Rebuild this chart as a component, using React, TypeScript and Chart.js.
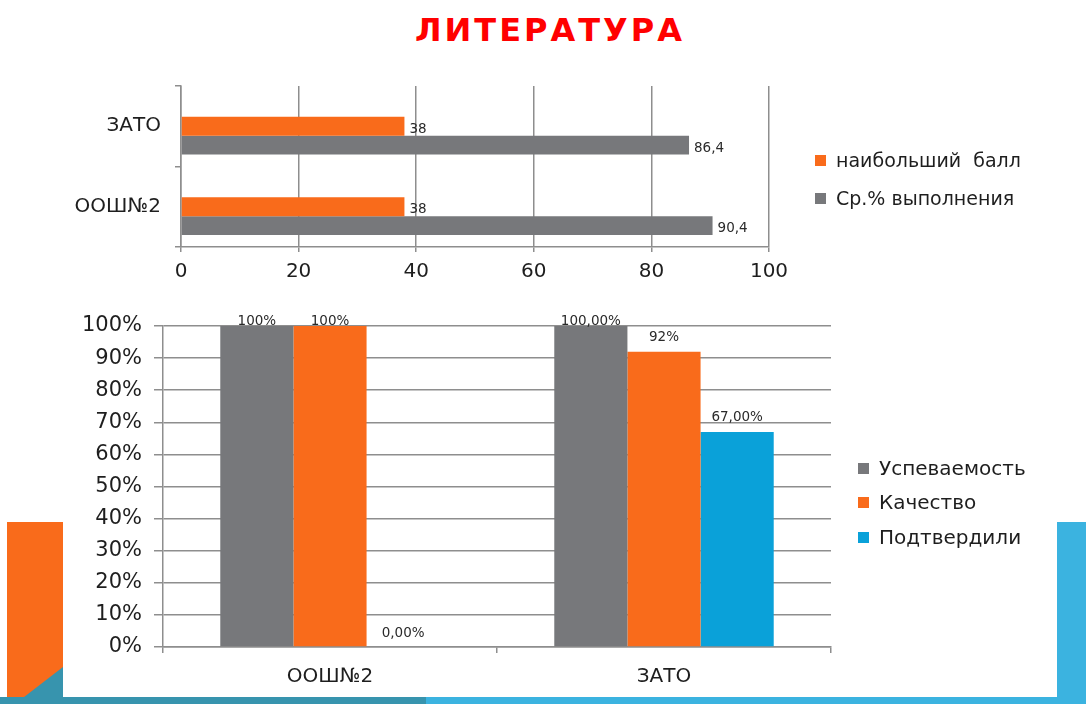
import React, { useEffect, useRef } from 'react';
import { Chart, registerables } from 'chart.js';

Chart.register(...registerables);

// ---------- data ----------
const topCategories = ['ЗАТО', 'ООШ№2'];
const topMaxScore = [38, 38];
const topAvgPercent = [86.4, 90.4];
const topSeriesNames = ['наибольший  балл', 'Ср.% выполнения'];

const bottomCategories = ['ООШ№2', 'ЗАТО'];
const progress = [100, 100];
const quality = [100, 92];
const confirmed = [0, 67];
const progressLabels = ['100%', '100,00%'];
const qualityLabels = ['100%', '92%'];
const confirmedLabels = ['0,00%', '67,00%'];
const bottomSeriesNames = ['Успеваемость', 'Качество', 'Подтвердили'];

const GRAY = '#77787b';
const ORANGE = '#f96b1b';
const BLUE = '#0aa1d9';
const GRID = '#8e8e8e';
const FONT = 'DejaVu Sans';

const valueLabels = {
  id: 'valueLabels',
  afterDatasetsDraw(chart: any, _args: any, opts: any) {
    const { ctx, chartArea } = chart;
    ctx.save();
    ctx.font = opts.font;
    ctx.fillStyle = opts.color;
    chart.data.datasets.forEach((ds: any, di: number) => {
      const texts = ds.valueTexts;
      if (!texts) return;
      const meta = chart.getDatasetMeta(di);
      meta.data.forEach((el: any, i: number) => {
        const t = texts[i];
        if (t == null) return;
        const { x, y } = el.getProps(['x', 'y'], true);
        ctx.textBaseline = 'middle';
        if (opts.horizontal) {
          ctx.textAlign = 'left';
          ctx.fillText(t, x + 5, y + 3);
        } else {
          ctx.textAlign = 'center';
          ctx.fillText(t, x, Math.max(y - 14, chartArea.top - 5));
        }
      });
    });
    ctx.restore();
  },
};

const fmt = (v: number) => String(v).replace('.', ',');

function TopChart() {
  const ref = useRef<HTMLCanvasElement>(null);
  useEffect(() => {
    const chart = new Chart(ref.current as HTMLCanvasElement, {
      type: 'bar',
      data: {
        labels: topCategories,
        datasets: [
          // empty slot (keeps the visible pair offset as in the original)
          { label: '', data: topCategories.map(() => null), backgroundColor: 'transparent' } as any,
          { label: topSeriesNames[0], data: topMaxScore, backgroundColor: ORANGE, valueTexts: topMaxScore.map(fmt) } as any,
          { label: topSeriesNames[1], data: topAvgPercent, backgroundColor: GRAY, valueTexts: topAvgPercent.map(fmt) } as any,
        ],
      },
      options: {
        indexAxis: 'y',
        animation: false,
        responsive: false,
        maintainAspectRatio: false,
        layout: { padding: { top: 23, right: 317, left: 0, bottom: 0 } },
        datasets: { bar: { categoryPercentage: 0.7, barPercentage: 1 } },
        plugins: {
          legend: { display: false },
          tooltip: { enabled: false },
          valueLabels: { font: `13.5px "${FONT}"`, color: '#2a2a2a', horizontal: true },
        } as any,
        scales: {
          x: {
            type: 'linear',
            min: 0,
            max: 100,
            ticks: { stepSize: 20, color: '#1e1e1e', font: { family: FONT, size: 20 }, padding: 8 },
            grid: { color: GRID, lineWidth: 1.5, tickLength: 5 },
            border: { color: GRID, width: 1.5 },
            afterFit: (s: any) => { s.height = 63; },
          },
          y: {
            type: 'category',
            ticks: { color: '#1e1e1e', font: { family: FONT, size: 20 }, padding: 14 },
            grid: { offset: true, drawOnChartArea: false, tickLength: 6, color: GRID, lineWidth: 1.5 },
            border: { color: GRID, width: 1.5 },
            afterFit: (s: any) => { s.width = 181; },
          },
        },
      },
      plugins: [valueLabels as any],
    });
    return () => chart.destroy();
  }, []);
  return <canvas ref={ref} width={1086} height={250} style={{ position: 'absolute', left: 0, top: 60, width: 1086, height: 250 }} />;
}

function BottomChart() {
  const ref = useRef<HTMLCanvasElement>(null);
  useEffect(() => {
    const chart = new Chart(ref.current as HTMLCanvasElement, {
      type: 'bar',
      data: {
        labels: bottomCategories,
        datasets: [
          { label: bottomSeriesNames[0], data: progress, backgroundColor: GRAY, valueTexts: progressLabels } as any,
          { label: bottomSeriesNames[1], data: quality, backgroundColor: ORANGE, valueTexts: qualityLabels } as any,
          { label: bottomSeriesNames[2], data: confirmed, backgroundColor: BLUE, valueTexts: confirmedLabels } as any,
        ],
      },
      options: {
        animation: false,
        responsive: false,
        maintainAspectRatio: false,
        layout: { padding: { top: 26, right: 255, left: 0, bottom: 0 } },
        datasets: { bar: { categoryPercentage: 0.657, barPercentage: 1 } },
        plugins: {
          legend: { display: false },
          tooltip: { enabled: false },
          valueLabels: { font: `13.5px "${FONT}"`, color: '#2a2a2a', horizontal: false },
        } as any,
        scales: {
          y: {
            type: 'linear',
            min: 0,
            max: 100,
            ticks: { stepSize: 10, color: '#1e1e1e', font: { family: FONT, size: 21 }, padding: 12, callback: (v: any) => v + '%' },
            grid: { color: GRID, lineWidth: 1.5, tickLength: 9 },
            border: { color: GRID, width: 1.5 },
            afterFit: (s: any) => { s.width = 163; },
          },
          x: {
            type: 'category',
            ticks: { color: '#1e1e1e', font: { family: FONT, size: 20 }, padding: 12 },
            grid: { offset: true, drawOnChartArea: false, tickLength: 6, color: GRID, lineWidth: 1.5 },
            border: { color: GRID, width: 1.5 },
            afterFit: (s: any) => { s.height = 57; },
          },
        },
      },
      plugins: [valueLabels as any],
    });
    return () => chart.destroy();
  }, []);
  return <canvas ref={ref} width={1086} height={404} style={{ position: 'absolute', left: 0, top: 300, width: 1086, height: 404 }} />;
}

function LegendRow({ color, text, left, centerY, size }: { color: string; text: string; left: number; centerY: number; size: number }) {
  return (
    <div style={{ position: 'absolute', left, top: centerY - 14, height: 28, display: 'flex', alignItems: 'center', whiteSpace: 'pre', fontFamily: FONT, fontSize: size, color: '#1e1e1e' }}>
      <span style={{ display: 'inline-block', width: 11, height: 11, background: color, marginRight: 10 }} />
      <span>{text}</span>
    </div>
  );
}

export default function App() {
  return (
    <div style={{ position: 'fixed', left: 0, top: 0, width: 1086, height: 704, background: '#fff', overflow: 'hidden' }}>
      {/* slide decorations */}
      <div style={{ position: 'absolute', left: 7, top: 522, width: 56, height: 182, background: '#f96b1b' }} />
      <div style={{ position: 'absolute', left: 0, top: 660, width: 63, height: 44, background: '#3794ae', clipPath: 'polygon(15px 44px, 63px 7px, 63px 44px)' }} />
      <div style={{ position: 'absolute', left: 0, top: 697, width: 426, height: 7, background: '#3794ae' }} />
      <div style={{ position: 'absolute', left: 426, top: 697, width: 660, height: 7, background: '#3bb3e0' }} />
      <div style={{ position: 'absolute', left: 1057, top: 522, width: 29, height: 182, background: '#3bb3e0' }} />

      <div style={{ position: 'absolute', left: 0, top: 10, width: 1086, boxSizing: 'border-box', paddingLeft: 14, textAlign: 'center', lineHeight: '40px', fontFamily: FONT, fontWeight: 'bold', fontSize: 32, letterSpacing: 3, color: '#ff0000' }}>
        ЛИТЕРАТУРА
      </div>

      <TopChart />
      <BottomChart />

      <LegendRow color={ORANGE} text={topSeriesNames[0]} left={815} centerY={160} size={19} />
      <LegendRow color={GRAY} text={topSeriesNames[1]} left={815} centerY={198} size={19} />

      <LegendRow color={GRAY} text={bottomSeriesNames[0]} left={858} centerY={468} size={20} />
      <LegendRow color={ORANGE} text={bottomSeriesNames[1]} left={858} centerY={502} size={20} />
      <LegendRow color={BLUE} text={bottomSeriesNames[2]} left={858} centerY={537} size={20} />
    </div>
  );
}
